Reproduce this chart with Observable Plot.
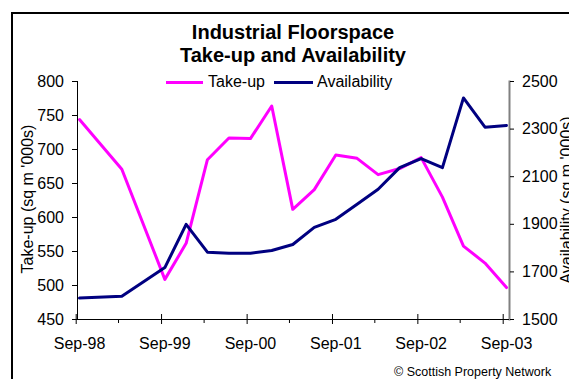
<!DOCTYPE html>
<html>
<head>
<meta charset="utf-8">
<script src="https://cdn.jsdelivr.net/npm/d3@7"></script>
<script src="https://cdn.jsdelivr.net/npm/@observablehq/plot@0.6"></script>
<style>
  body { margin: 0; width: 569px; height: 379px; overflow: hidden; background: #fff; position: relative;
         font-family: "Liberation Sans", Arial, sans-serif; color: #000; }
  #border { position: absolute; left: 11px; top: 12px; width: 800px; height: 600px; border: 2px solid #000; box-sizing: border-box; }
  #chart { position: absolute; left: 0; top: 0; }
  .t { position: absolute; white-space: nowrap; line-height: 1; }
  .title { left: 293px; transform: translateX(-50%); font-size: 20px; font-weight: bold; }
  .leg { font-size: 16px; }
  .swatch { position: absolute; height: 3px; }
  .ylab { font-size: 16px; transform: translate(-50%, -50%) rotate(-90deg); }
  .caption { font-size: 12.5px; }
</style>
</head>
<body>
<div id="border"></div>
<div id="chart"></div>
<div class="t title" style="top:22px">Industrial Floorspace</div>
<div class="t title" style="top:45px">Take-up and Availability</div>
<div class="swatch" style="left:166px;top:80.5px;width:37px;background:#FF00FF"></div>
<div class="t leg" style="left:208px;top:74px">Take-up</div>
<div class="swatch" style="left:274px;top:80.5px;width:39px;background:#000080"></div>
<div class="t leg" style="left:317px;top:74px">Availability</div>
<div class="t ylab" style="left:28px;top:199px">Take-up (sq m '000s)</div>
<div class="t ylab" style="left:567px;top:200px">Availability (sq m '000s)</div>
<div class="t caption" style="left:394px;top:365.5px">© Scottish Property Network</div>
<script>
// Quarterly observations (half-yearly at the start of the series)
const periods = ["1998-09","1999-03","1999-09","1999-12","2000-03","2000-06","2000-09","2000-12",
                 "2001-03","2001-06","2001-09","2001-12","2002-03","2002-06","2002-09","2002-12",
                 "2003-03","2003-06","2003-09"];
const takeUp = [744, 671, 509, 562, 685, 717, 716, 764, 612, 641, 692, 687, 663, 672, 688, 630, 558, 533, 497];
const availability = [1590, 1598, 1718, 1900, 1783, 1778, 1778, 1790, 1815, 1887, 1921, 1984, 2047, 2138, 2176, 2138, 2431, 2308, 2315];

// Axis ticks
const takeUpTicks = [450, 500, 550, 600, 650, 700, 750, 800];
const availabilityTicks = [1500, 1700, 1900, 2100, 2300, 2500];
const yearTicks = ["1998-09","1999-09","2000-09","2001-09","2002-09","2003-09"];
const yearLabels = ["Sep-98","Sep-99","Sep-00","Sep-01","Sep-02","Sep-03"];
const halfYearTicks = ["1999-03","2000-03","2001-03","2002-03","2003-03"];

const parse = d3.utcParse("%Y-%m");
const rows = periods.map((p, i) => ({date: parse(p), takeUp: takeUp[i], availability: availability[i]}));
const yearDates = yearTicks.map(parse);
const halfDates = halfYearTicks.map(parse);
const labelOf = new Map(yearDates.map((d, i) => [+d, yearLabels[i]]));

// Availability shares the plot with take-up through a linear mapping onto the left scale
const avToY = d3.scaleLinear([1500, 2500], [450, 800]);

const chart = Plot.plot({
  width: 569,
  height: 379,
  marginLeft: 77,
  marginRight: 60,
  marginTop: 81,
  marginBottom: 60,
  style: {fontFamily: "'Liberation Sans', Arial, sans-serif", fontSize: "16px", color: "#000", background: "transparent", overflow: "visible"},
  x: {type: "utc", domain: [parse("1998-09"), parse("2003-09")], range: [79, 506]},
  y: {domain: [450, 800]},
  marks: [
    Plot.frame({anchor: "left", stroke: "#000"}),
    Plot.frame({anchor: "right", stroke: "#808080", strokeWidth: 2}),
    Plot.ruleY([450], {stroke: "#000"}),
    Plot.axisY(takeUpTicks, {anchor: "left", tickSize: 5, tickPadding: 8.5, fontSize: 16, label: null}),
    Plot.axisY(availabilityTicks.map(avToY), {anchor: "right", tickSize: 4, tickPadding: 8.5, fontSize: 16, label: null,
      tickFormat: v => String(Math.round(avToY.invert(v)))}),
    Plot.axisX(yearDates, {anchor: "bottom", tickSize: 10, dy: -5, dx: -3.3, tickFormat: () => "", label: null}),
    Plot.axisX(halfDates, {anchor: "bottom", tickSize: 4, dx: -3.3, tickFormat: () => "", label: null}),
    Plot.axisX(yearDates, {anchor: "bottom", tickSize: 0, tickPadding: 18, fontSize: 16, label: null,
      tickFormat: d => labelOf.get(+d)}),
    Plot.line(rows, {x: "date", y: "takeUp", stroke: "#FF00FF", strokeWidth: 3}),
    Plot.line(rows, {x: "date", y: d => avToY(d.availability), stroke: "#000080", strokeWidth: 3})
  ]
});
document.getElementById("chart").append(chart);
</script>
</body>
</html>
